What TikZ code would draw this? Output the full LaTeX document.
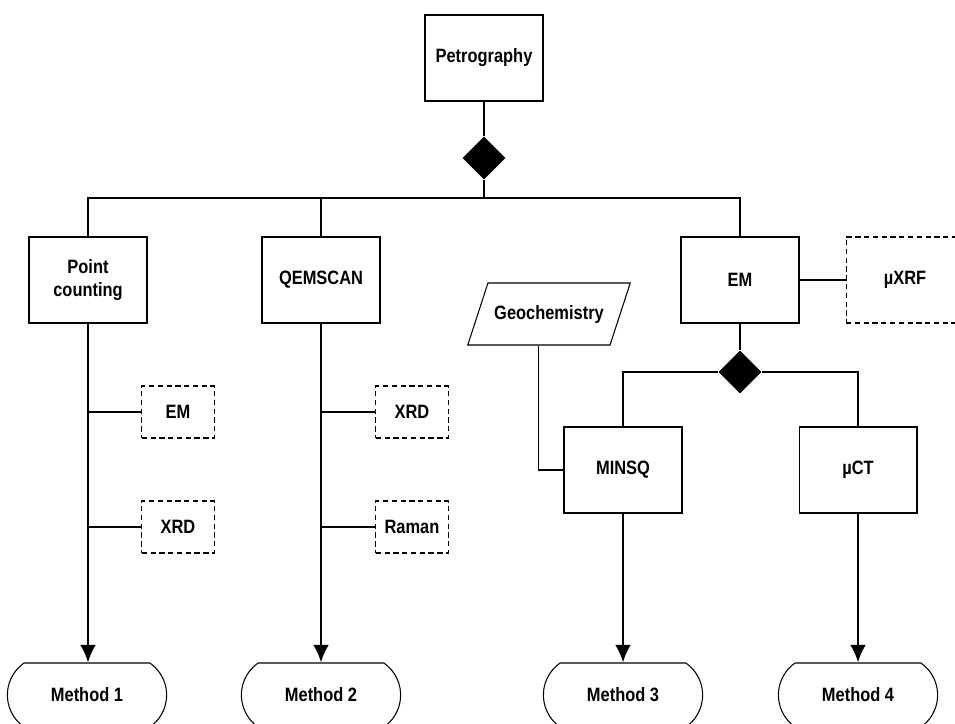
\documentclass[tikz,border=0pt]{standalone}
\usepackage{fontspec}
\setmainfont{Liberation Sans}[FakeStretch=0.85]
\usetikzlibrary{shapes.geometric,shapes.misc,arrows.meta}
\tikzset{
    box/.style={draw, line width=0.6pt, minimum width=2.36cm, minimum height=1.72cm, align=center},
    optbox/.style={box, dash pattern=on 3pt off 2pt},
    smallopt/.style={optbox, minimum width=1.45cm, minimum height=1.04cm},
    junction/.style={diamond, fill, inner sep=0pt, minimum size=0.86cm},
    method/.style={rounded rectangle, rounded rectangle arc length=110, draw, line width=0.6pt, minimum width=3.42cm, minimum height=1.28cm},
    data/.style={trapezium, trapezium left angle=56, trapezium right angle=124, trapezium stretches=true, draw, line width=0.6pt, minimum width=3.28cm, minimum height=1.24cm},
    flow/.style={line width=1.4pt, -{Latex[length=10pt,width=9pt]}}
}

\begin{document}
\begin{tikzpicture}[x=0.02cm, y=-0.02cm, line width=0.6pt,
    every node/.style={font=\bfseries\fontsize{11}{13}\selectfont}]
\useasboundingbox (0,0) rectangle (955,723);
\node[box] (petro) at (484,58) {Petrography};
\node[junction] (dia1) at (484,158) {};
\coordinate (bar) at (484,198);
\node[box] (pc) at (88,280) {Point\\counting};
\node[box] (qem) at (321,280) {QEMSCAN};
\node[box] (em) at (740,280) {EM};
\node[optbox] (xrf) at (905,280) {µXRF};
\node[smallopt] (em1) at (178,412) {EM};
\node[smallopt] (xrd1) at (178,527) {XRD};
\node[smallopt] (xrd2) at (412,412) {XRD};
\node[smallopt] (raman) at (412,527) {Raman};
\node[data] (geo) at (549,314) {Geochemistry};
\node[junction] (dia2) at (740,372) {};
\node[box] (minsq) at (623,470) {MINSQ};
\node[box] (uct) at (858,470) {µCT};
\node[method] (m1) at (87,695) {Method 1};
\node[method] (m2) at (321,695) {Method 2};
\node[method] (m3) at (623,695) {Method 3};
\node[method] (m4) at (858,695) {Method 4};
\draw (petro) -- (dia1);
\draw (dia1) -- (bar);
\draw (pc.north) |- (bar) -| (em.north);
\draw (qem.north) -- (qem.north |- bar);
\draw (em) -- (xrf);
\draw (em) -- (dia2);
\draw (dia2.west) -| (minsq.north);
\draw (dia2.east) -| (uct.north);
\draw (geo.bottom side) |- (minsq.west);
\draw (em1.west) -- (em1.west -| pc.south);
\draw (xrd1.west) -- (xrd1.west -| pc.south);
\draw (xrd2.west) -- (xrd2.west -| qem.south);
\draw (raman.west) -- (raman.west -| qem.south);
\draw[flow] (pc.south) -- (pc.south |- m1.north);
\draw[flow] (qem.south) -- (qem.south |- m2.north);
\draw[flow] (minsq.south) -- (minsq.south |- m3.north);
\draw[flow] (uct.south) -- (uct.south |- m4.north);
\end{tikzpicture}
\end{document}
